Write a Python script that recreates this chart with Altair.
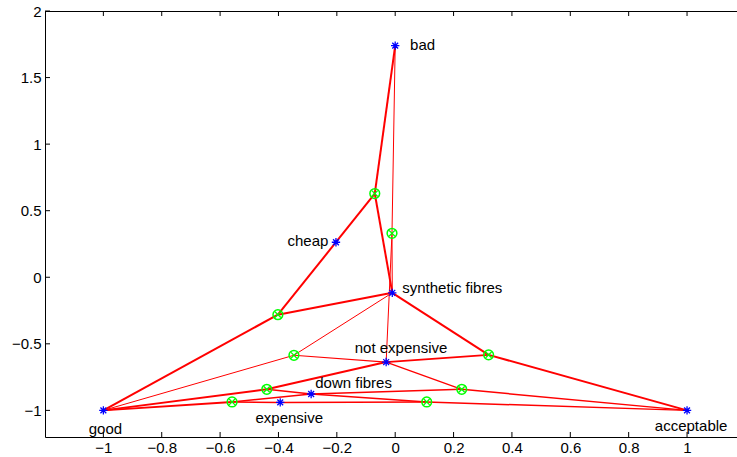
import altair as alt
import pandas as pd

# ---- data ----
star_names = ["bad", "cheap", "synthetic fibres", "not expensive",
              "down fibres", "expensive", "good", "acceptable"]
star_x = [0.0, -0.203, -0.01, -0.031, -0.288, -0.394, -1.0, 1.0]
star_y = [1.74, 0.263, -0.117, -0.637, -0.877, -0.94, -1.0, -1.0]

green_names = ["G1", "G2", "G3", "G4", "G5", "G6", "G7", "G8", "G9"]
green_x = [-0.070, -0.011, -0.402, -0.347, 0.320, -0.440, 0.228, -0.559, 0.108]
green_y = [0.629, 0.330, -0.281, -0.586, -0.583, -0.842, -0.842, -0.937, -0.937]

edge_from = ["bad", "G1", "G1", "cheap", "G3", "G3",
             "bad", "G2", "G2",
             "good", "G4", "G4",
             "synthetic fibres", "not expensive", "G5",
             "good", "G6", "G6",
             "not expensive", "down fibres", "G7",
             "good", "G8", "G8",
             "expensive", "down fibres", "G9"]
edge_to = ["G1", "cheap", "synthetic fibres", "G3", "good", "synthetic fibres",
           "G2", "synthetic fibres", "not expensive",
           "G4", "synthetic fibres", "not expensive",
           "G5", "G5", "acceptable",
           "G6", "not expensive", "down fibres",
           "G7", "G7", "acceptable",
           "G8", "expensive", "down fibres",
           "G9", "G9", "acceptable"]
edge_weight = [2, 2, 2, 2, 2, 2,
               1, 1, 1,
               1, 1, 1.2,
               2, 1.8, 2,
               2, 2, 1.5,
               1.3, 1.5, 1.5,
               1.8, 1.5, 1.5,
               1.5, 1.3, 1.5]

label_text = ["bad", "cheap", "synthetic fibres", "not expensive",
              "down fibres", "expensive", "good", "acceptable"]
label_x = [0.051, -0.229, 0.024, 0.02, -0.274, -0.363, -0.993, 1.014]
label_y = [1.744, 0.27, -0.083, -0.534, -0.797, -1.06, -1.138, -1.12]
label_align = ["left", "right", "left", "center", "left", "center", "center", "center"]

x_ticks = [-1, -0.8, -0.6, -0.4, -0.2, 0, 0.2, 0.4, 0.6, 0.8, 1]
y_ticks = [-1, -0.5, 0, 0.5, 1, 1.5, 2]

# ---- tables ----
pos = {n: (x, y) for n, x, y in zip(star_names, star_x, star_y)}
pos.update({n: (x, y) for n, x, y in zip(green_names, green_x, green_y)})
edges = pd.DataFrame({
    "x": [pos[a][0] for a in edge_from],
    "y": [pos[a][1] for a in edge_from],
    "x2": [pos[b][0] for b in edge_to],
    "y2": [pos[b][1] for b in edge_to],
    "w": edge_weight,
})
stars = pd.DataFrame({"x": star_x, "y": star_y, "n": star_names})
greens = pd.DataFrame({"x": green_x, "y": green_y})
labels = pd.DataFrame({"x": label_x, "y": label_y, "t": label_text, "a": label_align})
xt = pd.DataFrame({"x": x_ticks})
yt = pd.DataFrame({"y": y_ticks})

W, H = 692, 426
FONT = "Liberation Sans"
FS = 15
xs = alt.Scale(domain=[-1.2, 1.1712], nice=False, zero=False)
ys = alt.Scale(domain=[-1.2, 2.0], nice=False, zero=False)

xaxis = alt.Axis(values=x_ticks, format="~g", title=None, grid=False, ticks=False,
                 domainColor="black", domainWidth=1, labelFont=FONT, labelFontSize=FS,
                 labelColor="black", labelPadding=3, labelOverlap=False, labelFlush=False)
yaxis = alt.Axis(values=y_ticks, format="~g", title=None, grid=False, ticks=False,
                 domainColor="black", domainWidth=1, labelFont=FONT, labelFontSize=FS,
                 labelColor="black", labelPadding=4, labelOverlap=False, labelFlush=False)


def X(f="x"):
    return alt.X(f"{f}:Q", scale=xs, axis=xaxis)


def Y(f="y"):
    return alt.Y(f"{f}:Q", scale=ys, axis=yaxis)


edge_layer = alt.Chart(edges).mark_rule(color="#ff0000").encode(
    x=X(), y=Y(), x2="x2:Q", y2="y2:Q",
    strokeWidth=alt.StrokeWidth("w:Q", scale=None),
)

top_border = alt.Chart(xt).mark_rule(color="black", strokeWidth=1).encode(
    x=alt.value(0), x2=alt.value(W), y=alt.value(0.5)
)
xtick_bottom = alt.Chart(xt).mark_rule(color="black").encode(
    x=X(), y=alt.value(H), y2=alt.value(H - 5)
)
xtick_top = alt.Chart(xt).mark_rule(color="black").encode(
    x=X(), y=alt.value(0), y2=alt.value(5)
)
ytick_left = alt.Chart(yt).mark_rule(color="black").encode(
    y=Y(), x=alt.value(0), x2=alt.value(5)
)

green_circ = alt.Chart(greens).mark_point(
    shape="circle", size=95, color="#00ff00", strokeWidth=1.5, filled=False, opacity=1
).encode(x=X(), y=Y())
green_x_mark = alt.Chart(greens).mark_point(
    shape="M-0.6,-0.6L0.6,0.6M-0.6,0.6L0.6,-0.6", size=95, color="#00ff00",
    strokeWidth=1.3, filled=False, opacity=1
).encode(x=X(), y=Y())

star_layer = alt.Chart(stars).mark_point(
    shape="M-1,0L1,0M0,-1L0,1M-0.7,-0.7L0.7,0.7M-0.7,0.7L0.7,-0.7",
    size=70, color="#0000ff", strokeWidth=1.3, filled=False, opacity=1
).encode(x=X(), y=Y())

text_layers = []
for al in ["left", "right", "center"]:
    text_layers.append(
        alt.Chart(labels).transform_filter(alt.datum.a == al).mark_text(
            align=al, baseline="middle", font=FONT, fontSize=FS, color="black"
        ).encode(x=X(), y=Y(), text="t:N")
    )

chart = alt.layer(
    edge_layer, top_border, xtick_bottom, xtick_top, ytick_left,
    green_circ, green_x_mark, star_layer, *text_layers
).properties(
    width=W, height=H, autosize="none",
    padding={"left": 45, "top": 11, "right": 0, "bottom": 20},
    background="white",
).configure_view(stroke=None)

chart.save("out.html", embed_options={"renderer": "svg", "actions": False})
